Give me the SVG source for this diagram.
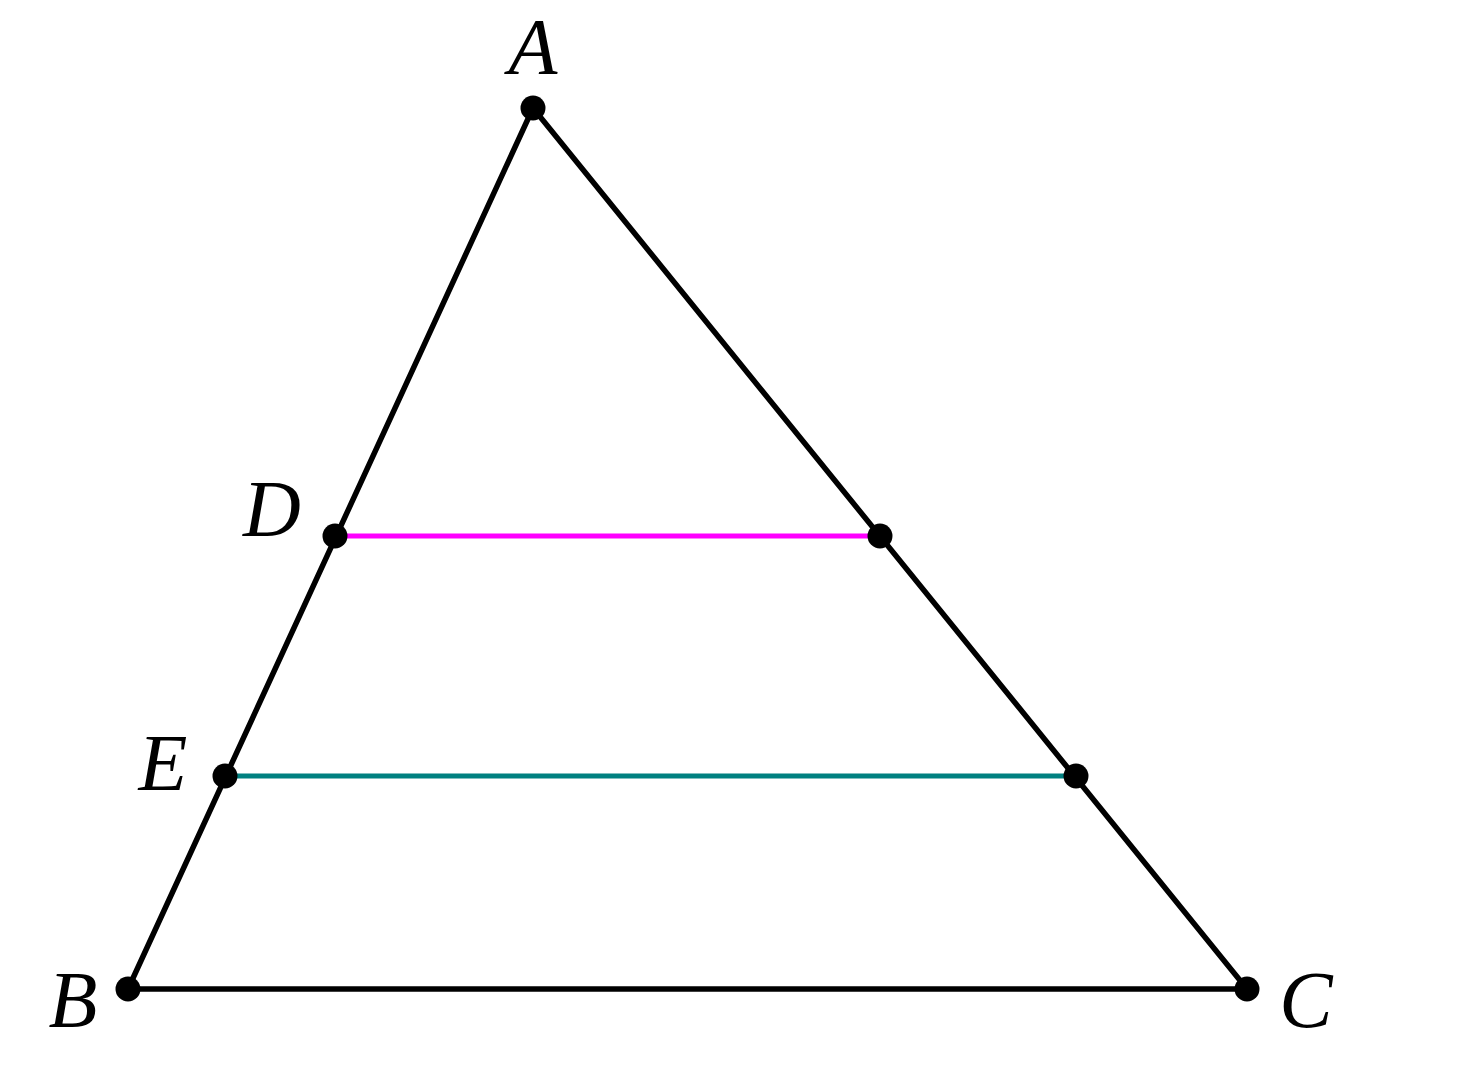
<svg xmlns="http://www.w3.org/2000/svg" width="1460" height="1077" viewBox="0 0 1460 1077">
<style>
.edge{stroke:#000;stroke-width:5.5;fill:none;stroke-linecap:round}
.pt{fill:#000}
.lbl{font-family:"Liberation Serif","DejaVu Serif",serif;font-style:italic;font-size:80px;fill:#000;text-anchor:middle}
</style>
<rect width="1460" height="1077" fill="#fff"/>
<g id="connectors">
<line class="edge" x1="533" y1="108" x2="128" y2="989"/>
<line class="edge" x1="533" y1="108" x2="1247" y2="989"/>
<line class="edge" x1="128" y1="989" x2="1247" y2="989"/>
<line x1="335" y1="536" x2="880" y2="536" stroke="#ff00ff" stroke-width="5"/>
<line x1="225" y1="776" x2="1076" y2="776" stroke="#008080" stroke-width="5"/>
</g>
<g id="A"><circle class="pt" cx="533" cy="108" r="12.5"/><text class="lbl" x="533" y="74">A</text></g>
<g id="B"><circle class="pt" cx="128" cy="989" r="12.5"/><text class="lbl" x="73" y="1027">B</text></g>
<g id="C"><circle class="pt" cx="1247" cy="989" r="12.5"/><text class="lbl" x="1306" y="1027">C</text></g>
<g id="D"><circle class="pt" cx="335" cy="536" r="12.5"/><text class="lbl" x="272" y="536">D</text></g>
<g id="E"><circle class="pt" cx="225" cy="776" r="12.5"/><text class="lbl" x="163" y="790">E</text></g>
<g id="F"><circle class="pt" cx="880" cy="536" r="12.5"/></g>
<g id="G"><circle class="pt" cx="1076" cy="776" r="12.5"/></g>
</svg>
